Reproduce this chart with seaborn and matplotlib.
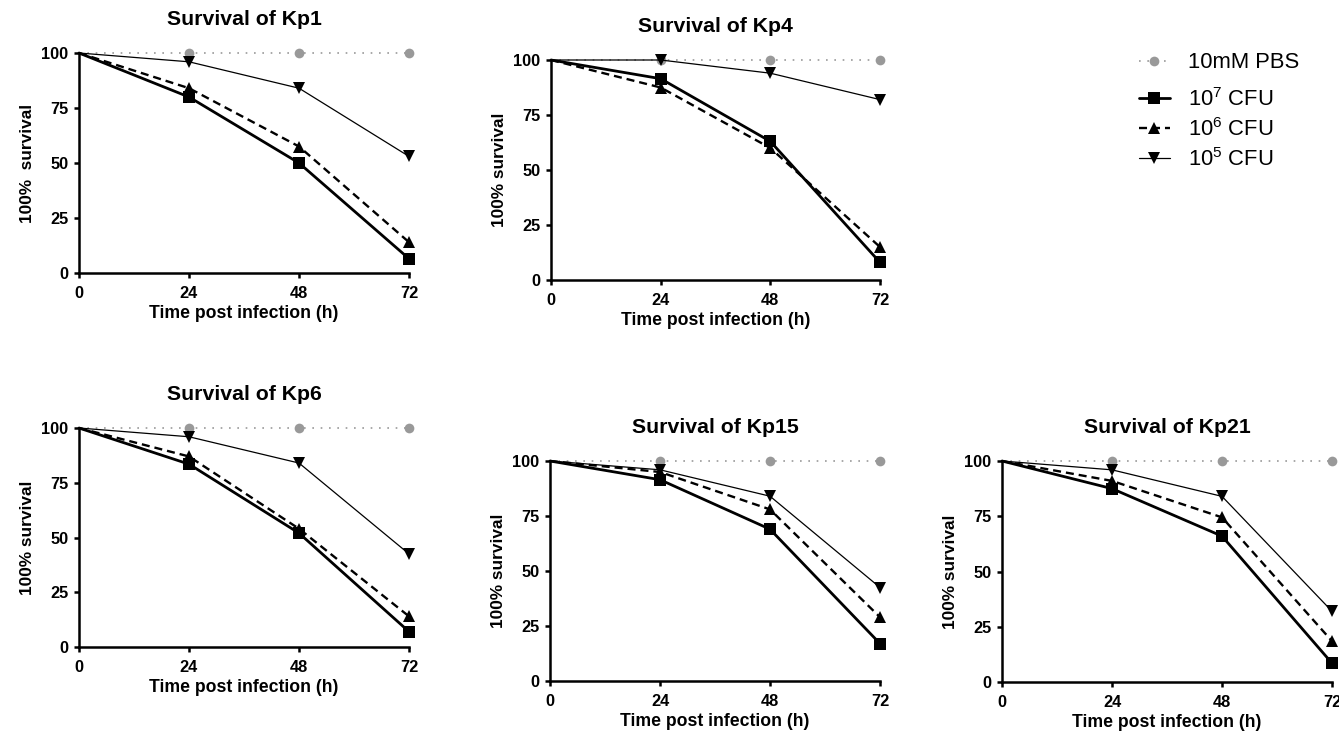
import matplotlib
matplotlib.use("Agg")
import matplotlib.pyplot as plt
from matplotlib.lines import Line2D
import seaborn as sns
import pandas as pd

sns.set_theme(style="ticks")
plt.rcParams['font.family'] = ['Liberation Sans', 'DejaVu Sans']
plt.rcParams['mathtext.fontset'] = 'custom'
plt.rcParams['mathtext.rm'] = 'Liberation Sans'
plt.rcParams['mathtext.it'] = 'Liberation Sans'
plt.rcParams['mathtext.bf'] = 'Liberation Sans:bold'
for k in ['text.color', 'axes.labelcolor', 'xtick.color', 'ytick.color', 'axes.edgecolor']:
    plt.rcParams[k] = 'black'

hours = [0, 24, 48, 72]
panels = ["Kp1", "Kp4", "Kp6", "Kp15", "Kp21"]
series = ["10mM PBS", "10^7 CFU", "10^6 CFU", "10^5 CFU"]

pbs = {p: [100, 100, 100, 100] for p in panels}
cfu7 = {"Kp1": [100, 80, 50, 6.5], "Kp4": [100, 91.5, 63, 8], "Kp6": [100, 83.5, 52, 7],
        "Kp15": [100, 91.5, 69, 17], "Kp21": [100, 87.5, 66, 8.5]}
cfu6 = {"Kp1": [100, 84, 57.5, 14], "Kp4": [100, 87.5, 60, 15], "Kp6": [100, 87, 54, 14],
        "Kp15": [100, 95, 78, 29], "Kp21": [100, 91, 74.5, 18.5]}
cfu5 = {"Kp1": [100, 96, 84, 53], "Kp4": [100, 100, 94, 82], "Kp6": [100, 96, 84, 42.5],
        "Kp15": [100, 96, 84, 42.5], "Kp21": [100, 96, 84, 32]}
yticks = [0, 25, 50, 75, 100]
xticks = [0, 24, 48, 72]
ylabels = {"Kp1": "100%  survival"}

rows = []
for p in panels:
    for s, d in zip(series, [pbs, cfu7, cfu6, cfu5]):
        for h, v in zip(hours, d[p]):
            rows.append({"panel": p, "series": s, "hour": h, "survival": v})
df = pd.DataFrame(rows)

styles = {
    "10mM PBS": dict(color="#999999", linestyle=(0, (1, 4)), linewidth=1.2, marker="o", markersize=7, zorder=2),
    "10^7 CFU": dict(color="black", linestyle="-", linewidth=2.0, marker="s", markersize=8, zorder=4),
    "10^6 CFU": dict(color="black", linestyle=(0, (3.4, 2.1)), linewidth=1.7, marker="^", markersize=8, zorder=3),
    "10^5 CFU": dict(color="black", linestyle="-", linewidth=0.9, marker="v", markersize=8, zorder=5),
}

W, H = 1339, 734
fig = plt.figure(figsize=(W / 100, H / 100), dpi=100)

# (x0px, x72px, y100px, y0px)
pos = {"Kp1": (79, 409, 53, 273), "Kp4": (551, 880, 60, 280), "Kp6": (79, 409, 428, 647),
       "Kp15": (550, 880, 461, 681), "Kp21": (1002, 1332, 461, 682)}

for p in panels:
    x0, x1, yt, yb = pos[p]
    ax = fig.add_axes([x0 / W, 1 - yb / H, (x1 - x0) / W, (yb - yt) / H])
    sub = df[df.panel == p]
    for s in series:
        st = dict(styles[s])
        d = sub[sub.series == s]
        sns.lineplot(data=d, x="hour", y="survival", ax=ax, color=st.pop("color"),
                     markevery=[1, 2, 3], markeredgewidth=0, clip_on=False, **st)
    ax.set_xlim(0, 72)
    ax.set_ylim(0, 100)
    ax.set_xticks(xticks)
    ax.set_yticks(yticks)
    ax.set_xticklabels([str(t) for t in xticks], fontsize=11.8, fontweight="bold")
    ax.set_yticklabels([str(t) for t in yticks], fontsize=11.8, fontweight="bold")
    for sp in ["top", "right"]:
        ax.spines[sp].set_visible(False)
    for sp in ["left", "bottom"]:
        ax.spines[sp].set_linewidth(1.8)
    ax.tick_params(axis="x", direction="out", length=3.5, width=1.8, pad=6)
    ax.tick_params(axis="y", direction="out", length=3.5, width=1.8, pad=4)
    ax.set_xlabel("Time post infection (h)", fontsize=12.7, fontweight="bold", labelpad=3)
    ax.set_ylabel(ylabels.get(p, "100% survival"), fontsize=12.4, fontweight="bold", labelpad=5)
    ax.set_title(f"Survival of {p}", fontsize=15.3, fontweight="bold", pad=20)
    ax.set_facecolor("none")
    if ax.get_legend() is not None:
        ax.get_legend().remove()

labels = ["10mM PBS", r"10$^{7}$ CFU", r"10$^{6}$ CFU", r"10$^{5}$ CFU"]
handles = []
for s in series:
    st = styles[s]
    handles.append(Line2D([0], [0], color=st["color"], linestyle=st["linestyle"],
                          linewidth=st["linewidth"], marker=st["marker"],
                          markersize=st["markersize"], markeredgewidth=0))
leg_kw = dict(frameon=False, fontsize=15.8, handlelength=1.4, labelspacing=0.32,
              handletextpad=0.85, borderaxespad=0, borderpad=0)
fig.legend(handles[:1], labels[:1], loc="center left", bbox_to_anchor=(1139 / W, 1 - 63 / H), **leg_kw)
fig.legend(handles[1:], labels[1:], loc="upper left", bbox_to_anchor=(1139 / W, 1 - 88 / H), **leg_kw)

fig.savefig("out.png", dpi=100, facecolor="white")
